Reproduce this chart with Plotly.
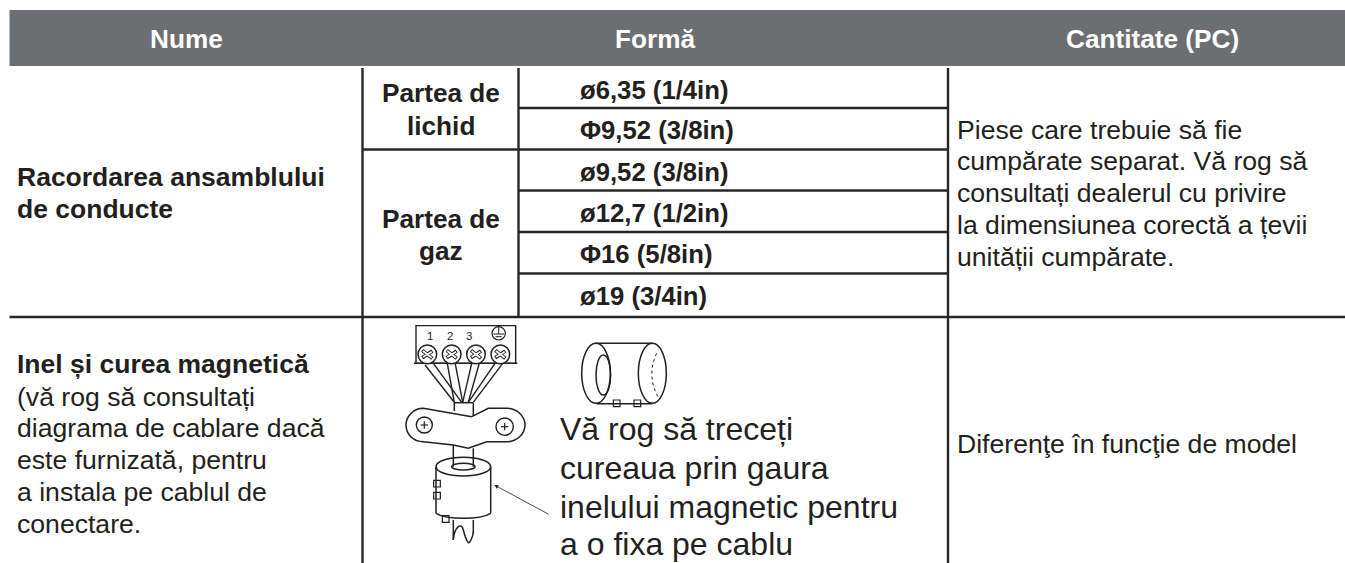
import plotly.graph_objects as go

W, H = 1345, 563
TXT = "#231f20"
HEAD = "#6d6e71"
FONT = "Liberation Sans"

header_labels = [("Nume", 150, 38.5), ("Formă", 615, 38.5), ("Cantitate (PC)", 1066, 38.5)]
bold_lines = [
    ("Partea de", 381.5, 93), ("lichid", 406.5, 125.5),
    ("Partea de", 381.5, 218.7), ("gaz", 419, 250.7),
    ("ø6,35 (1/4in)", 580, 89.5), ("Φ9,52 (3/8in)", 580, 129.5),
    ("ø9,52 (3/8in)", 580, 171.5), ("ø12,7 (1/2in)", 580, 212.5),
    ("Φ16 (5/8in)", 580, 253.5), ("ø19 (3/4in)", 580, 295.5),
    ("Racordarea ansamblului", 17, 177.3), ("de conducte", 17, 209),
    ("Inel și curea magnetică", 17, 364),
]
regular_lines = [
    ("Piese care trebuie să fie", 957, 129.5), ("cumpărate separat. Vă rog să", 957, 161),
    ("consultați dealerul cu privire", 957, 193), ("la dimensiunea corectă a țevii", 957, 224.5),
    ("unității cumpărate.", 957, 256.5),
    ("(vă rog să consultați", 17, 396.5), ("diagrama de cablare dacă", 17, 428),
    ("este furnizată, pentru", 17, 459.5), ("a instala pe cablul de", 17, 492),
    ("conectare.", 17, 523.5),
    ("Diferenţe în funcţie de model", 957, 443.5),
]
large_lines = [
    ("Vă rog să treceți", 560, 428.5), ("cureaua prin gaura", 560, 467.5),
    ("inelului magnetic pentru", 560, 506.5), ("a o fixa pe cablu", 560, 543.5),
]
terminal_labels = [("1", 430, 335.5), ("2", 450, 335.5), ("3", 469, 335.5)]

full_rules = [((9.5, 1345), 317)]
mid_rules = [((362, 948), 149.5)]
short_rules = [108, 190.5, 232, 273.5]
vertical_rules = [(362.5, 68, 563), (518.5, 68, 317), (948, 68, 563)]

def Z(x, y):
    return 400 + x / 3, 310 + y / 3

def P(points):
    s = ""
    for i, p in enumerate(points):
        if len(p) == 2:
            x, y = Z(*p)
            s += ("M" if i == 0 else "L") + f"{x:.1f},{y:.1f} "
        else:
            a = Z(p[0], p[1]); b = Z(p[2], p[3]); c = Z(p[4], p[5])
            s += f"C{a[0]:.1f},{a[1]:.1f} {b[0]:.1f},{b[1]:.1f} {c[0]:.1f},{c[1]:.1f} "
    return s

screw_centres = [(82, 133), (155, 133), (228, 133), (301, 133)]
clamp_screws = [(73, 345, 24), (314, 350, 26)]
tabs = [(111, 521), (111, 557), (137, 627), (650, 280), (712, 280)]
wires = [
    [(75, 165), (163, 277)], [(98, 157), (185, 277)],
    [(142, 160), (163, 277)], [(165, 157), (188, 277)],
    [(215, 160), (188, 277)], [(238, 160), (205, 277)],
    [(285, 160), (205, 277)], [(308, 160), (220, 277)],
]
clamp_outline = [
    (215, 320), (70, 295), (40, 295, 18, 320, 18, 345), (18, 372, 40, 395, 70, 395),
    (160, 405), (205, 415), (260, 395), (320, 395),
    (350, 395, 375, 372, 375, 345), (375, 318, 350, 295, 320, 295), (265, 295), (215, 320),
]
cable_lines = [
    [(163, 278), (163, 303)], [(220, 278), (220, 318)], [(163, 278), (220, 278)],
    [(160, 405), (160, 470)], [(220, 415), (220, 470)],
    [(108, 470), (108, 610)], [(272, 470), (272, 610)],
    [(108, 610), (140, 630, 240, 630, 272, 610)],
    [(160, 630), (160, 690)], [(220, 630), (220, 670)],
    [(160, 690), (163, 650, 185, 635, 190, 660), (198, 690, 205, 705, 210, 695), (218, 680, 220, 670, 220, 665)],
    [(585, 100), (757, 100)], [(590, 281), (757, 281)],
]
ellipses = [
    (190, 470, 82, 28), (190, 470, 35, 10),
    (588, 190, 43, 90), (610, 195, 22, 60), (757, 190, 42, 90),
]
dotted_arc = [(770, 130), (750, 170, 750, 220, 775, 262)]
arrow_tail = (450, 615)
arrow_head = (283, 525)

fig = go.Figure()
shapes = []

def line_shape(path, width=1.4, color=TXT, dash=None):
    ln = dict(color=color, width=width)
    if dash:
        ln["dash"] = dash
    shapes.append(dict(type="path", path=path, xref="x", yref="y", line=ln, layer="above"))

def circ(cx, cy, rx, ry, width=1.4, fill="rgba(0,0,0,0)"):
    a = Z(cx - rx, cy - ry); b = Z(cx + rx, cy + ry)
    shapes.append(dict(type="circle", xref="x", yref="y", x0=a[0], y0=a[1], x1=b[0], y1=b[1],
                       line=dict(color=TXT, width=width), fillcolor=fill, layer="above"))

def rect(x0, y0, x1, y1, fill=None, line=None, width=1.4):
    shapes.append(dict(type="rect", xref="x", yref="y", x0=x0, y0=y0, x1=x1, y1=y1,
                       fillcolor=fill or "rgba(0,0,0,0)",
                       line=dict(color=line or "rgba(0,0,0,0)", width=width if line else 0),
                       layer="below" if fill else "above"))

rect(9.5, 10, W, 66, fill=HEAD)

xs, ys = [], []
for (a, b), y in full_rules + mid_rules:
    xs += [a, b, None]; ys += [y, y, None]
for y in short_rules:
    xs += [518, 948, None]; ys += [y, y, None]
for x, y0, y1 in vertical_rules:
    xs += [x, x, None]; ys += [y0, y1, None]
fig.add_trace(go.Scatter(x=xs, y=ys, mode="lines", line=dict(color="#2a2627", width=2.4),
                         hoverinfo="skip", showlegend=False))

a = Z(48, 47); b = Z(347, 160)
rect(a[0], a[1], b[0], b[1], line=TXT)
line_shape(P([(42, 160), (352, 160)]), 1.6)
for w in wires:
    line_shape(P(w), 1.4)
line_shape(P(clamp_outline), 1.5)
for c in cable_lines:
    line_shape(P(c), 1.5)
for cx, cy in screw_centres:
    circ(cx, cy, 28, 28, 1.5, fill="white")
    line_shape(P([(cx - 15, cy - 12), (cx + 15, cy + 12)]), 3.6)
    line_shape(P([(cx - 15, cy + 10), (cx + 15, cy - 10)]), 3.6)
    line_shape(P([(cx - 13, cy - 10), (cx + 13, cy + 10)]), 1.8, color="white")
    line_shape(P([(cx - 13, cy + 8), (cx + 13, cy - 8)]), 1.8, color="white")
for cx, cy, r in clamp_screws:
    circ(cx, cy, r, r, 1.4)
    line_shape(P([(cx - 11, cy), (cx + 11, cy)]), 1.2)
    line_shape(P([(cx, cy - 11), (cx, cy + 11)]), 1.2)
circ(296, 70, 20, 20, 1.2)
line_shape(P([(296, 50), (296, 72)]), 1)
line_shape(P([(280, 72), (312, 72)]), 1)
line_shape(P([(287, 80), (305, 80)]), 1)
for cx, cy, rx, ry in ellipses:
    circ(cx, cy, rx, ry, 1.5)
line_shape(P(dotted_arc), 1, dash="dot")
for cx, cy in tabs:
    a = Z(cx - 10, cy - 10); b = Z(cx + 10, cy + 10)
    rect(a[0], a[1], b[0], b[1], line=TXT, width=1.2)

ann = []
def text(t, x, y, size, bold=False, color=TXT):
    ann.append(dict(text=f"<b>{t}</b>" if bold else t, x=x, y=y, xref="x", yref="y",
                    xanchor="left", yanchor="middle", showarrow=False, borderpad=0, borderwidth=0,
                    font=dict(family=FONT, size=size, color=color)))

for t, x, y in header_labels:
    text(t, x, y, 26.2, True, "white")
for t, x, y in bold_lines:
    size = 25.7 if t[0] in "øΦ" else (26.2 if t in ("Partea de", "lichid", "gaz") else 26.5)
    text(t, x, y, size, True)
for t, x, y in regular_lines:
    text(t, x, y, 26.6)
for t, x, y in large_lines:
    text(t, x, y, 32)
for t, x, y in terminal_labels:
    text(t, x - 3, y, 11.5)

ta = Z(*arrow_tail); he = Z(*arrow_head)
ann.append(dict(x=he[0], y=he[1], ax=ta[0], ay=ta[1], xref="x", yref="y", axref="x", ayref="y",
                text="", showarrow=True, arrowhead=2, arrowsize=1, arrowwidth=0.8, arrowcolor=TXT))

fig.update_layout(
    width=W, height=H, margin=dict(l=0, r=0, t=0, b=0),
    paper_bgcolor="white", plot_bgcolor="white",
    xaxis=dict(range=[0, W], visible=False, fixedrange=True),
    yaxis=dict(range=[H, 0], visible=False, fixedrange=True),
    shapes=shapes, annotations=ann, showlegend=False,
)
fig.write_html("out.html", config=dict(displayModeBar=False),
               post_script="document.body.style.margin='0';document.documentElement.style.overflow='hidden';")
